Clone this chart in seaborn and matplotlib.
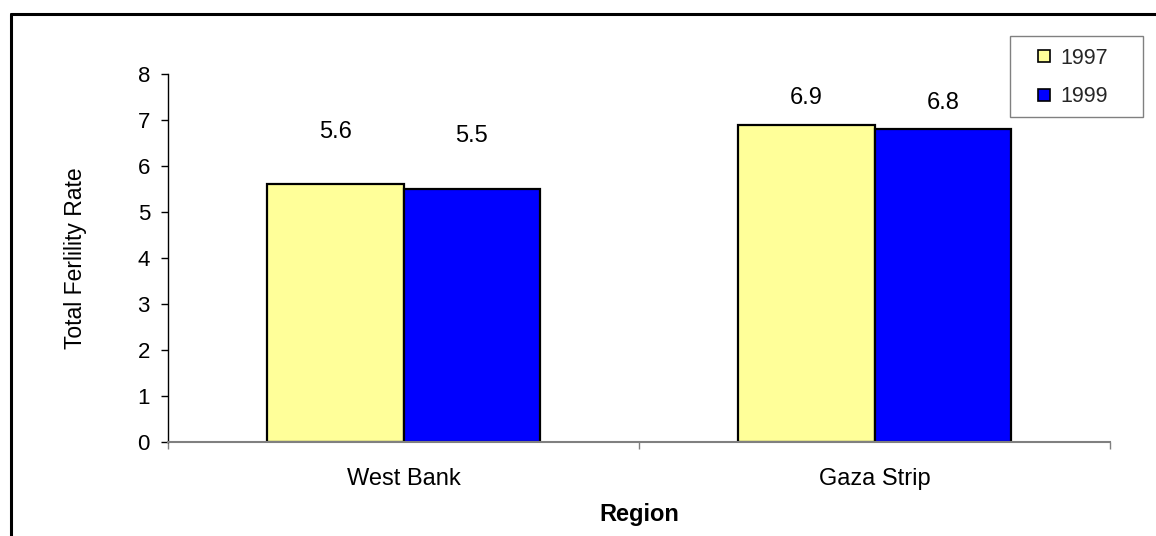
import matplotlib
matplotlib.use("Agg")
import matplotlib.pyplot as plt
from matplotlib.lines import Line2D
from matplotlib.patches import Rectangle
import seaborn as sns
import pandas as pd

regions = ["West Bank", "Gaza Strip"]
years = ["1997", "1999"]
rate_1997 = [5.6, 6.9]
rate_1999 = [5.5, 6.8]
palette = {"1997": "#FFFF99", "1999": "#0000FF"}

df = pd.DataFrame({
    "Region": regions * 2,
    "Year": [years[0]] * len(regions) + [years[1]] * len(regions),
    "Rate": rate_1997 + rate_1999,
})

sns.set_theme(style="white")
plt.rcParams["font.family"] = ["Liberation Sans", "DejaVu Sans"]

W, H = 1156, 536
fig = plt.figure(figsize=(W / 100, H / 100), dpi=100)
ax = fig.add_axes([168 / W, 1 - 442 / H, (1110 - 168) / W, (442 - 74) / H])

sns.barplot(data=df, x="Region", y="Rate", hue="Year", order=regions,
            hue_order=years, palette=palette, width=0.58, saturation=1,
            edgecolor="black", linewidth=1.6, ax=ax, legend=False)

# value labels: West Bank labels sit higher above their bars than Gaza Strip ones
label_gap = [30, 11]
for cont in ax.containers:
    for bar, gap in zip(cont, label_gap):
        value = bar.get_height()
        ax.annotate(f"{value:.1f}", (bar.get_x() + bar.get_width() / 2, value),
                    xytext=(0, gap), textcoords="offset points",
                    ha="center", va="bottom", fontsize=17, color="black")

ax.set_ylim(0, 8)
ax.set_xlim(-0.5, 1.5)
ax.set_yticks(range(0, 9))
ax.set_xticks([-0.5, 0.5, 1.5], minor=True)
ax.tick_params(axis="x", which="major", length=0, labelsize=17, pad=19, colors="black")
ax.tick_params(axis="x", which="minor", length=5, width=1, color="#808080", direction="out", bottom=True)
ax.tick_params(axis="y", length=5, width=1, color="black", direction="out", left=True, labelsize=16, pad=8)
for lab in ax.get_yticklabels() + ax.get_xticklabels():
    lab.set_color("black")

ax.set_xlabel("Region", fontsize=17, fontweight="bold", labelpad=9, color="black")
ax.set_ylabel("Total Ferlility Rate", fontsize=16.5, labelpad=36, color="black")

for side in ("top", "right"):
    ax.spines[side].set_visible(False)
ax.spines["left"].set_color("black")
ax.spines["left"].set_linewidth(1)
ax.spines["bottom"].set_color("#808080")
ax.spines["bottom"].set_linewidth(1.5)

# legend box
fig.add_artist(Rectangle((1010 / W, 1 - 117 / H), (1143 - 1010) / W, (117 - 36) / H,
                         transform=fig.transFigure, facecolor="white",
                         edgecolor="#808080", linewidth=1))
handles = [Line2D([], [], marker="s", linestyle="none", markersize=9,
                  markerfacecolor=palette[y], markeredgecolor="black", markeredgewidth=1.2)
           for y in years]
fig.legend(handles, years, loc="upper left", bbox_to_anchor=(1038 / W, 1 - 48 / H),
           fontsize=15.5, frameon=False, handlelength=0.6, handletextpad=0.45,
           borderpad=0, labelspacing=0.8, borderaxespad=0)

# partial frame around the chart
x0, y0 = 11 / W, 1 - 14 / H
fig.add_artist(Line2D([x0, x0], [0, y0], transform=fig.transFigure, color="black", linewidth=2.2))
fig.add_artist(Line2D([x0, 1], [y0, y0], transform=fig.transFigure, color="black", linewidth=2.2))

fig.savefig("out.png", dpi=100)
